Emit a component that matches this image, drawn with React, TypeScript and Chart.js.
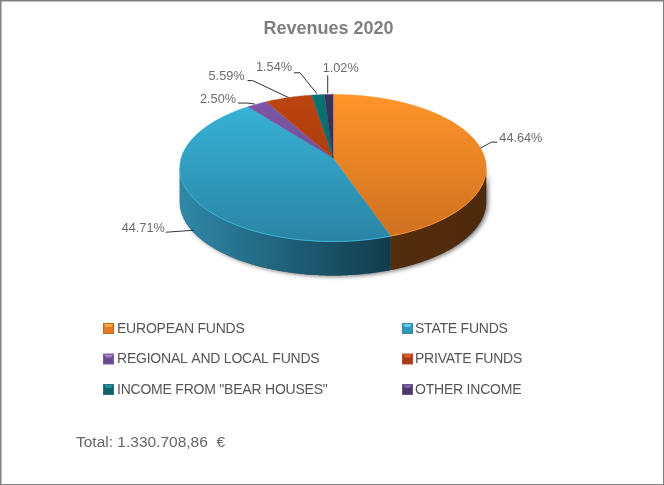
import React, { useEffect, useRef } from "react";
import { Chart, registerables } from "chart.js";

Chart.register(...registerables);

const categories = [
  "EUROPEAN FUNDS",
  "STATE FUNDS",
  "REGIONAL AND LOCAL FUNDS",
  "PRIVATE FUNDS",
  'INCOME FROM "BEAR HOUSES"',
  "OTHER INCOME",
];
const shares = [44.64, 44.71, 2.5, 5.59, 1.54, 1.02];
const titleText = "Revenues 2020";
const totalText = "Total: 1.330.708,86  €";

const topLight = ["#ff952a", "#38b6da", "#7f58a8", "#bd4410", "#0b7274", "#40305e"];
const topDark = ["#cc6f20", "#2a84a4", "#624488", "#99360a", "#085a5c", "#33264c"];
const sideLight = ["#5e3310", "#2f88a8", "#5a3f80", "#7a2c08", "#064a4c", "#281e3c"];
const sideDark = ["#4e2a0c", "#103a4a", "#3a2854", "#5a2006", "#043436", "#1c1430"];
const legendBase = ["#e27c24", "#2f97b8", "#6a4b92", "#a83c10", "#0c6468", "#4a3668"];
const legendBright = ["#ffa848", "#62cbe8", "#a684cc", "#dc6030", "#1c9296", "#7860a8"];
const legendEdge = ["#c46a20", "#3a86a4", "#7a5ca0", "#b85038", "#2a6e8a", "#6a5488"];

// Leader geometry, relative to each slice's projected mid-arc point.
const leaderStart = [[1, 2], [3, 35], [-2, 0], [0, 0], [-1, -1], [-1, -1]];
const leaderElbow = [[12, -4], [-25, 37], [-9, -1], [-36, -17], [-18, -22], [-1, -19]];
const leaderEnd = [[18, -4], [-25, 37], [-19, -1], [-41, -17], [-24, -22], [-1, -19]];
const labelAt = [[20, -8], [-26, 33], [-21, -5], [-44, -21], [-26, -27], [-6, -26]];
const labelAlign = ["left", "right", "right", "right", "right", "left"];

const FONT = '"Liberation Sans", Arial, sans-serif';
// Perspective view of the disc
const APEX_X = 333;
const APEX_Y = 158;
const PERSP = 0.135;
const SCALE_X = 0.991;
const SCALE_Y = 0.4714;
const DEPTH = 34;

function project(theta: number, radius: number, drop = 0) {
  const u = Math.cos(theta);
  const v = Math.sin(theta);
  const w = 1 - PERSP * v;
  return {
    x: APEX_X + (radius * SCALE_X * u) / w,
    y: APEX_Y + (radius * SCALE_Y * v) / w + drop,
  };
}

function traceArc(ctx: any, a: number, b: number, radius: number, drop = 0, join = false) {
  const steps = Math.max(2, Math.ceil(Math.abs(b - a) / 0.01));
  for (let k = 0; k <= steps; k++) {
    const p = project(a + ((b - a) * k) / steps, radius, drop);
    if (k === 0 && !join) ctx.moveTo(p.x, p.y);
    else ctx.lineTo(p.x, p.y);
  }
}

const pie3d = {
  id: "pie3d",
  beforeDatasetsDraw(chart: any) {
    const ctx = chart.ctx;
    const arcs = chart.getDatasetMeta(0).data;
    const r = arcs[0].outerRadius;
    const from = Math.asin(PERSP);
    const to = Math.PI - from;
    ctx.save();
    ctx.save();
    ctx.shadowColor = "rgba(0,0,0,0.55)";
    ctx.shadowBlur = 4;
    ctx.shadowOffsetX = 2;
    ctx.shadowOffsetY = 1;
    ctx.fillStyle = "#555";
    ctx.beginPath();
    traceArc(ctx, from, to, r);
    traceArc(ctx, to, from, r, DEPTH, true);
    ctx.closePath();
    ctx.fill();
    ctx.restore();
    arcs.forEach((arc: any, i: number) => {
      const a = Math.max(arc.startAngle, from);
      const b = Math.min(arc.endAngle, to);
      if (b <= a) return;
      const g = ctx.createLinearGradient(APEX_X - r, 0, i === 0 ? APEX_X + r : APEX_X + 60, 0);
      g.addColorStop(0, sideLight[i]);
      g.addColorStop(1, sideDark[i]);
      ctx.fillStyle = g;
      ctx.beginPath();
      traceArc(ctx, a, b, r);
      traceArc(ctx, b, a, r, DEPTH, true);
      ctx.closePath();
      ctx.fill();
    });
    ctx.restore();
  },
  beforeDatasetDraw(chart: any) {
    // Top face: the library's arc angles and radius, seen in perspective.
    const ctx = chart.ctx;
    const arcs = chart.getDatasetMeta(0).data;
    ctx.save();
    arcs.forEach((arc: any, i: number) => {
      const g = ctx.createLinearGradient(0, 94, 0, 242);
      g.addColorStop(0, arc.options.backgroundColor);
      g.addColorStop(1, topDark[i]);
      ctx.fillStyle = g;
      ctx.strokeStyle = g;
      ctx.lineWidth = 0.4;
      ctx.beginPath();
      ctx.moveTo(APEX_X, APEX_Y);
      traceArc(ctx, arc.startAngle, arc.endAngle, arc.outerRadius, 0, true);
      ctx.closePath();
      ctx.fill();
      ctx.stroke();
    });
    ctx.restore();
    return false;
  },
  afterDatasetsDraw(chart: any) {
    const ctx = chart.ctx;
    const arcs = chart.getDatasetMeta(0).data;
    const r = arcs[0].outerRadius;
    const total = shares.reduce((s, v) => s + v, 0);
    ctx.save();

    // rim light on the front edge of the top face
    arcs.forEach((arc: any, i: number) => {
      const a = Math.max(arc.startAngle, Math.asin(PERSP));
      const b = Math.min(arc.endAngle, Math.PI - Math.asin(PERSP));
      if (b <= a) return;
      ctx.strokeStyle = topLight[i];
      ctx.lineWidth = 1;
      ctx.beginPath();
      traceArc(ctx, a, b, r);
      ctx.stroke();
    });

    // leaders and percentage labels
    arcs.forEach((arc: any, i: number) => {
      const p = project((arc.startAngle + arc.endAngle) / 2, r);
      ctx.strokeStyle = "#333";
      ctx.lineWidth = 1;
      ctx.beginPath();
      ctx.moveTo(p.x + leaderStart[i][0], p.y + leaderStart[i][1]);
      ctx.lineTo(p.x + leaderElbow[i][0], p.y + leaderElbow[i][1]);
      ctx.lineTo(p.x + leaderEnd[i][0], p.y + leaderEnd[i][1]);
      ctx.stroke();
      ctx.fillStyle = "#6b6b6b";
      ctx.font = `12.7px ${FONT}`;
      ctx.textBaseline = "middle";
      ctx.textAlign = labelAlign[i];
      const pct = ((shares[i] / total) * 100).toFixed(2) + "%";
      ctx.fillText(pct, p.x + labelAt[i][0], p.y + labelAt[i][1]);
    });

    // legend
    categories.forEach((name, i) => {
      const col = i % 2;
      const row = Math.floor(i / 2);
      const x = col === 0 ? 103 : 402;
      const y = 323 + row * 30.5;
      const s = 11;
      ctx.fillStyle = legendEdge[i];
      ctx.fillRect(x, y, s, s);
      ctx.fillStyle = legendBase[i];
      ctx.fillRect(x + 1, y + 1, s - 2, s - 2);
      ctx.fillStyle = legendBright[i];
      ctx.beginPath();
      ctx.moveTo(x + 1, y + 1);
      ctx.lineTo(x + s - 1, y + 1);
      ctx.lineTo(x + s - 3, y + 4);
      ctx.lineTo(x + 3, y + 4);
      ctx.closePath();
      ctx.fill();
      ctx.fillStyle = "#555555";
      ctx.font = `14px ${FONT}`;
      ctx.letterSpacing = "-0.22px";
      ctx.textAlign = "left";
      ctx.textBaseline = "middle";
      ctx.fillText(name, x + (col === 0 ? 14 : 13), y + 6);
    });
    ctx.letterSpacing = "0px";

    // total
    ctx.fillStyle = "#666666";
    ctx.font = `15.5px ${FONT}`;
    ctx.textAlign = "left";
    ctx.textBaseline = "middle";
    ctx.fillText(totalText, 76, 443);

    // frame
    ctx.fillStyle = "#808080";
    ctx.fillRect(0, 0, 664, 1.5);
    ctx.fillRect(0, 0, 1.5, 485);
    ctx.fillRect(0, 484, 664, 1);
    ctx.fillRect(663, 0, 1, 485);
    ctx.restore();
  },
};

export default function App() {
  const ref = useRef<HTMLCanvasElement>(null);
  useEffect(() => {
    const chart = new Chart(ref.current as HTMLCanvasElement, {
      type: "pie",
      data: {
        labels: categories,
        datasets: [{ data: shares, borderWidth: 0, backgroundColor: topLight }],
      },
      options: {
        responsive: false,
        animation: false,
        devicePixelRatio: 1,
        events: [],
        layout: { padding: { left: 0, right: 7, top: 0, bottom: 130 } },
        plugins: {
          legend: { display: false },
          tooltip: { enabled: false },
          title: {
            display: true,
            text: titleText,
            color: "#7f7f7f",
            font: { family: FONT, size: 18, weight: "bold" },
            padding: { top: 18, bottom: 9 },
          },
        },
      },
      plugins: [pie3d],
    } as any);
    return () => chart.destroy();
  }, []);
  return (
    <div style={{ position: "absolute", left: 0, top: 0, width: 664, height: 485 }}>
      <canvas ref={ref} width={664} height={485} style={{ display: "block" }} />
    </div>
  );
}
